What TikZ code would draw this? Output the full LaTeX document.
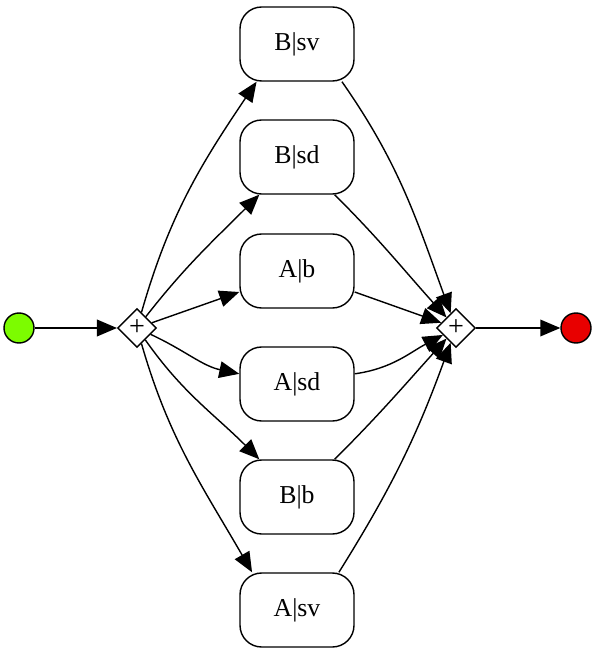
\documentclass[tikz,border=0pt]{standalone}
\usepackage{fontspec}
\setmainfont{Liberation Serif}
\usetikzlibrary{positioning,arrows.meta,shapes.geometric}
\definecolor{evgreen}{RGB}{124,252,0}
\definecolor{evred}{RGB}{232,0,0}

\begin{document}
\begin{tikzpicture}[
  x=0.03cm, y=-0.03cm,
  task/.style={rounded corners=0.65cm, draw, line width=1.2pt, align=center,
    minimum width=3.42cm, minimum height=2.22cm, fill=white,
    font=\fontsize{22}{25}\selectfont},
  gateway/.style={diamond, draw, line width=1.2pt, fill=white, aspect=1,
    minimum size=1.16cm, inner sep=0pt, font=\fontsize{24}{24}\selectfont},
  startev/.style={circle, draw, line width=1.2pt, fill=evgreen, minimum size=0.9cm},
  endev/.style={circle, draw, line width=1.2pt, fill=evred, minimum size=0.9cm},
  arr/.style={-{Triangle[length=0.6cm, width=0.5cm]}, line width=1.2pt}
]
  \useasboundingbox (0,0) rectangle (594,655);

  % --- events and gateways ---
  \node[startev] (start) at (19,328)  {};
  \node[gateway] (split) at (137,328) {+};
  \node[gateway] (join)  at (456,328) {+};
  \node[endev]   (end)   at (576,328) {};

  % --- tasks ---
  \node[task] (bsv) at (297,44)  {B|sv};
  \node[task] (bsd) at (297,157) {B|sd};
  \node[task] (ab)  at (297,271) {A|b};
  \node[task] (asd) at (297,384) {A|sd};
  \node[task] (bb)  at (297,497) {B|b};
  \node[task] (asv) at (297,610) {A|sv};

  \draw[arr] (start) -- (split);
  \draw[arr] (join)  -- (end);

  % --- split to tasks ---
  \draw[arr] (split) to[out=74,  in=236] (bsv.223);
  \draw[arr] (split) to[out=52,  in=225] (bsd);
  \draw[arr] (split) -- (ab.200);
  \draw[arr] (split) to[out=-25, in=168] (asd.170);
  \draw[arr] (split) to[out=-55, in=135] (bb);
  \draw[arr] (split) to[out=-74, in=120] (asv.140);

  % --- tasks to join ---
  \draw[arr] (bsv.-40) to[out=-55, in=110] (join);
  \draw[arr] (bsd) to[out=-45, in=132] (join);
  \draw[arr] (ab.-20) -- (join);
  \draw[arr] (asd.10) to[out=8, in=208] (join);
  \draw[arr] (bb)  to[out=45,  in=228] (join);
  \draw[arr] (asv.42) to[out=58,  in=250] (join);
\end{tikzpicture}
\end{document}
